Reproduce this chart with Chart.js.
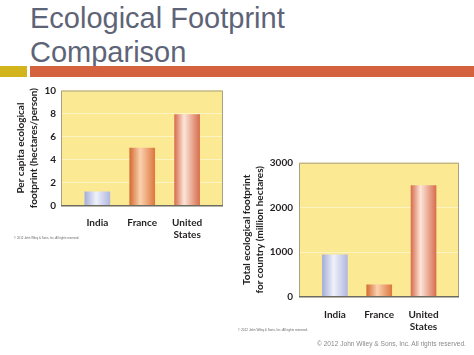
<!DOCTYPE html>
<html><head><meta charset="utf-8">
<script src="https://cdn.jsdelivr.net/npm/chart.js@4"></script>
<style>
body{margin:0;background:#fff;width:474px;height:355px;overflow:hidden;position:relative;font-family:"Liberation Sans",Arial,sans-serif}
#title{position:absolute;left:30px;top:1px;font-size:29px;line-height:34px;color:#5e6477;white-space:nowrap}
.band{position:absolute;top:66px;height:11px}
canvas{position:absolute}
.tiny{position:absolute;color:#666;white-space:nowrap;line-height:4px}
#foot{position:absolute;left:317px;top:340px;font-size:6.6px;line-height:8px;color:#8a8a8a;white-space:nowrap}
</style></head>
<body>
<div id="title">Ecological Footprint<br>Comparison</div>
<div class="band" style="left:0;width:27px;background:#d2b51c"></div>
<div class="band" style="left:30px;width:444px;background:#d5623f"></div>
<canvas id="c1" width="240" height="180" style="left:0;top:70px"></canvas>
<canvas id="c2" width="244" height="195" style="left:230px;top:140px"></canvas>
<div class="tiny" style="left:14px;top:236px;font-size:2.9px">© 2012 John Wiley &amp; Sons, Inc. All rights reserved.</div>
<div class="tiny" style="left:238px;top:328px;font-size:3.1px">© 2012 John Wiley &amp; Sons, Inc. All rights reserved.</div>
<div id="foot">© 2012 John Wiley &amp; Sons, Inc. All rights reserved.</div>
<script>
const countries = ['India', 'France', 'United States'];
const xTickLabels = ['India', 'France', ['United', 'States']];
const perCapitaFootprint = [1.2, 5.0, 7.9];
const totalFootprint = [935, 265, 2490];
const perCapitaTicks = [0, 2, 4, 6, 8, 10];
const totalTicks = [0, 1000, 2000, 3000];
const leftTitle = ['Per capita ecological', 'footprint (hectares/person)'];
const rightTitle = ['Total ecological footprint', 'for country (million hectares)'];

const barStops = [
  [[0, '#a5aed9'], [0.45, '#eff1fb'], [1, '#b0b8e0']],
  [[0, '#d56c33'], [0.42, '#fbd2ae'], [1, '#de7840']],
  [[0, '#d76e4e'], [0.38, '#fde5d8'], [1, '#d76f50']]
];

function barGradient(ctx) {
  const chart = ctx.chart;
  if (!chart.chartArea || !chart.scales.x) return barStops[ctx.dataIndex][0][1];
  const px = chart.scales.x.getPixelForValue(ctx.dataIndex);
  const g = chart.ctx.createLinearGradient(px - 12.5, 0, px + 12.5, 0);
  barStops[ctx.dataIndex].forEach(s => g.addColorStop(s[0], s[1]));
  return g;
}

const plotFrame = {
  id: 'plotFrame',
  beforeDraw(chart) {
    const {ctx, chartArea: a} = chart;
    ctx.save();
    ctx.fillStyle = '#fbe994';
    ctx.fillRect(a.left, a.top, a.right - a.left, a.bottom - a.top);
    ctx.restore();
  },
  afterDraw(chart) {
    const {ctx, chartArea: a} = chart;
    ctx.save();
    ctx.strokeStyle = '#a7a180';
    ctx.lineWidth = 1;
    ctx.beginPath();
    ctx.moveTo(a.left + 0.5, a.bottom);
    ctx.lineTo(a.left + 0.5, a.top + 0.5);
    ctx.lineTo(a.right - 0.5, a.top + 0.5);
    ctx.lineTo(a.right - 0.5, a.bottom);
    ctx.stroke();
    ctx.strokeStyle = '#6c6b5e';
    ctx.lineWidth = 1.6;
    ctx.beginPath();
    ctx.moveTo(a.left, a.bottom);
    ctx.lineTo(a.right, a.bottom);
    ctx.stroke();
    ctx.restore();
  }
};

const tickFont = {family: 'Lato', weight: 'bold', size: 10, lineHeight: 1.2};

function makeChart(id, values, yTicks, title, cfg) {
  const pts = values.map((v, i) => ({x: i, y: v}));
  return new Chart(document.getElementById(id), {
    type: 'bar',
    data: {datasets: [{data: pts, backgroundColor: barGradient, borderWidth: 0, barThickness: 25, maxBarThickness: 25}]},
    options: {
      responsive: false,
      animation: false,
      layout: {padding: {top: cfg.padTop, right: cfg.padRight, left: 0, bottom: 0}},
      plugins: {legend: {display: false}, tooltip: {enabled: false}},
      scales: {
        x: {
          type: 'linear', min: -0.81, max: 2.8, offset: false,
          grid: {display: false, offset: false}, border: {display: false},
          afterBuildTicks: s => { s.ticks = countries.map((c, i) => ({value: i})); },
          afterFit: s => { s.height = cfg.xHeight; },
          ticks: {font: tickFont, color: '#231f20', padding: cfg.xPad, maxRotation: 0, autoSkip: false,
            callback: v => xTickLabels[v]}
        },
        y: {
          min: yTicks[0], max: yTicks[yTicks.length - 1],
          afterBuildTicks: s => { s.ticks = yTicks.map(v => ({value: v})); },
          afterFit: s => { s.width = cfg.yWidth; },
          border: {display: false},
          grid: {drawTicks: false, lineWidth: 1,
            color: c => (c.tick && (c.tick.value === yTicks[0] || c.tick.value === yTicks[yTicks.length - 1])) ? 'rgba(0,0,0,0)' : '#fdf4c4'},
          ticks: {font: tickFont, color: '#231f20', padding: cfg.yPad, callback: v => String(v)},
          title: {display: true, text: title, color: '#231f20',
            font: {family: 'Lato', weight: 'bold', size: 10, lineHeight: 1.3},
            padding: {top: cfg.titlePad, bottom: 0}}
        }
      }
    },
    plugins: [plotFrame]
  });
}

makeChart('c1', perCapitaFootprint, perCapitaTicks, leftTitle,
  {padTop: 20.5, padRight: 17, xHeight: 44.3, yWidth: 61, xPad: 3.5, yPad: 5, titlePad: 14.5});
makeChart('c2', totalFootprint, totalTicks, rightTitle,
  {padTop: 22.7, padRight: 15, xHeight: 38.3, yWidth: 69, xPad: 4, yPad: 6, titlePad: 10.5});
</script>
</body></html>
